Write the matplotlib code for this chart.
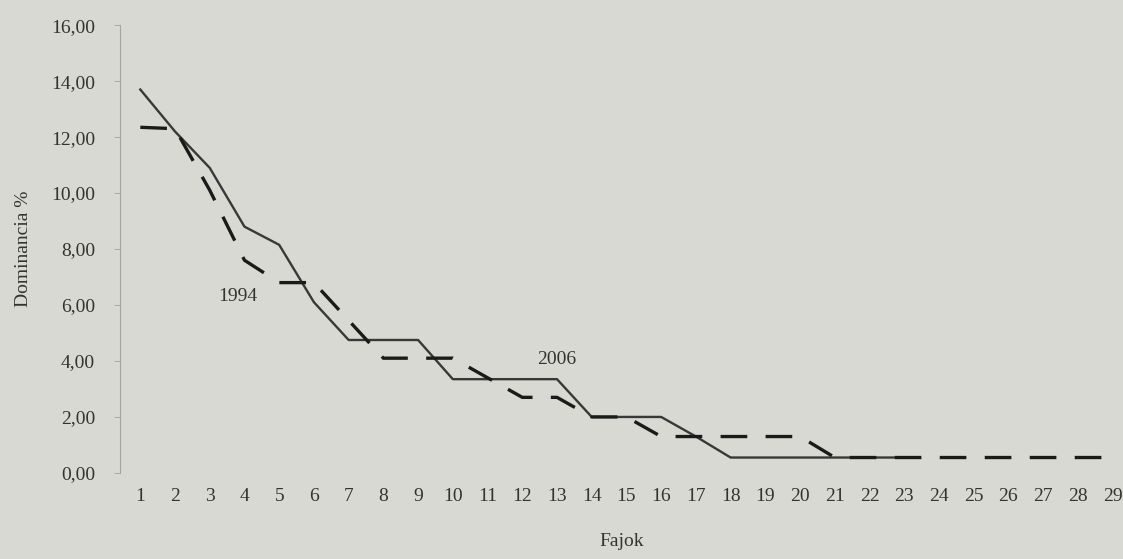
import matplotlib.pyplot as plt

# species rank (Fajok) and dominance % for the two survey years
fajok = list(range(1, 30))
dom_2006 = [13.7, 12.2, 10.9, 8.8, 8.15, 6.1, 4.75, 4.75, 4.75, 3.35, 3.35, 3.35, 3.35,
            2.0, 2.0, 2.0, 1.3, 0.55, 0.55, 0.55, 0.55, 0.55, 0.55]
dom_1994 = [12.35, 12.3, 10.1, 7.6, 6.8, 6.8, 5.45, 4.1, 4.1, 4.1, 3.4, 2.7, 2.7,
            2.0, 2.0, 1.3, 1.3, 1.3, 1.3, 1.3, 0.55, 0.55, 0.55, 0.55, 0.55, 0.55,
            0.55, 0.55, 0.55]
y_ticks = [0, 2, 4, 6, 8, 10, 12, 14, 16]

bg = '#d8d9d2'
plt.rcParams['font.family'] = ['Liberation Serif', 'DejaVu Serif']

fig = plt.figure(figsize=(11.23, 5.59), dpi=100, facecolor=bg)
ax = fig.add_axes([0.107, 0.154, 0.893, 0.801], facecolor=bg)

ax.plot(fajok[:len(dom_2006)], dom_2006, color='#383838', lw=1.7)
ax.plot(fajok, dom_1994, color='#1a1a1a', lw=2.4, dashes=(8.0, 5.5))

ax.text(3.8, 6.3, '1994', ha='center', va='center', fontsize=14, color='#333333')
ax.text(13.0, 4.05, '2006', ha='center', va='center', fontsize=14, color='#333333')

ax.set_xlim(0.42, 29.3)
ax.set_ylim(0, 16)
ax.set_xticks(fajok)
ax.set_xticklabels([str(f) for f in fajok])
ax.set_yticks(y_ticks)
ax.set_yticklabels([f'{v:.2f}'.replace('.', ',') for v in y_ticks])
ax.tick_params(axis='both', labelsize=14, colors='#a5a5a5', labelcolor='#333333')
ax.tick_params(axis='x', length=0, pad=11)
ax.tick_params(axis='y', length=4, width=0.6, pad=14)

for side in ['top', 'right', 'bottom']:
    ax.spines[side].set_visible(False)
ax.spines['left'].set_color('#a5a5a5')
ax.spines['left'].set_linewidth(0.8)

ax.set_xlabel('Fajok', fontsize=14, color='#333333', labelpad=20)
ax.set_ylabel('Dominancia %', fontsize=14, color='#333333', labelpad=14)

fig.savefig('out.png', dpi=100, facecolor=bg)
